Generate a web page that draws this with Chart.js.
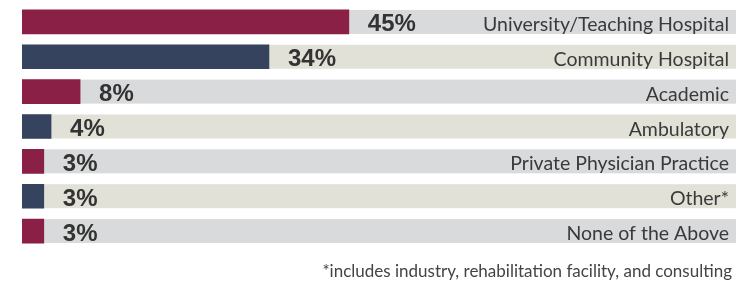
<!DOCTYPE html>
<html>
<head>
<meta charset="utf-8">
<script src="https://cdn.jsdelivr.net/npm/chart.js@4/dist/chart.umd.min.js"></script>
<style>
  html, body { margin: 0; padding: 0; background: #fff; }
  canvas { display: block; }
</style>
</head>
<body>
<canvas id="chart" width="737" height="283"></canvas>
<script>
// data
const categories = [
  "University/Teaching Hospital",
  "Community Hospital",
  "Academic",
  "Ambulatory",
  "Private Physician Practice",
  "Other*",
  "None of the Above"
];
const percents = [45, 34, 8, 4, 3, 3, 3];
const footnote = "*includes industry, rehabilitation facility, and consulting";

const maroon = "#8b2046";
const navy = "#36435e";
const trackGray = "#d9dadc";
const trackBeige = "#e2e1d7";

// grey / beige strip behind every bar, full width of the chart area
const tracks = {
  id: "tracks",
  beforeDatasetsDraw(chart) {
    const ctx = chart.ctx;
    const area = chart.chartArea;
    chart.getDatasetMeta(0).data.forEach((bar, i) => {
      ctx.fillStyle = i % 2 ? trackBeige : trackGray;
      ctx.fillRect(area.left, bar.y - bar.height / 2, area.right - area.left, bar.height);
    });
  }
};

// bold % after each bar, category name at the right end, footnote
const labels = {
  id: "labels",
  afterDatasetsDraw(chart) {
    const ctx = chart.ctx;
    const area = chart.chartArea;
    const bars = chart.getDatasetMeta(0).data;
    ctx.save();
    ctx.textBaseline = "alphabetic";

    ctx.font = "bold 24px 'Liberation Sans', Arial, sans-serif";
    ctx.fillStyle = "#333333";
    ctx.textAlign = "left";
    bars.forEach((bar, i) => {
      ctx.fillText(percents[i] + "%", bar.x + 19, bar.y + 9.5);
    });

    ctx.font = "19.5px Lato, 'Open Sans', sans-serif";
    ctx.fillStyle = "#3a3a3a";
    ctx.textAlign = "right";
    bars.forEach((bar, i) => {
      ctx.fillText(categories[i], area.right - 7, bar.y + 9);
    });

    ctx.font = "17px Lato, 'Open Sans', sans-serif";
    ctx.fillStyle = "#444444";
    ctx.fillText(footnote, area.right - 4, 277);
    ctx.restore();
  }
};

new Chart(document.getElementById("chart"), {
  type: "bar",
  data: {
    labels: categories,
    datasets: [{
      data: percents,
      backgroundColor: ctx => ctx.dataIndex % 2 ? navy : maroon,
      borderWidth: 0,
      barThickness: 24
    }]
  },
  options: {
    indexAxis: "y",
    responsive: false,
    animation: false,
    devicePixelRatio: 1,
    layout: { padding: { top: 4.5, bottom: 34.5, left: 22, right: 1 } },
    plugins: {
      legend: { display: false },
      tooltip: { enabled: false }
    },
    scales: {
      x: { display: false, min: 0, max: 98.3 },
      y: { display: false }
    }
  },
  plugins: [tracks, labels]
});
</script>
</body>
</html>
